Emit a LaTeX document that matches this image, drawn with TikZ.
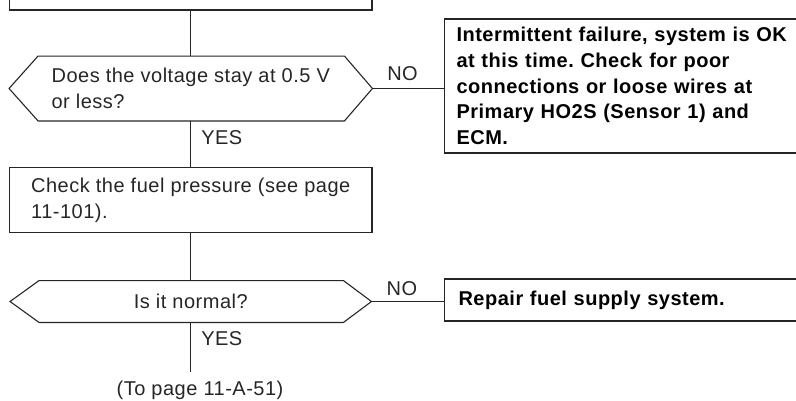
\documentclass[tikz,border=0pt]{standalone}
\usepackage{fontspec}
\setmainfont{Liberation Sans}[LetterSpace=2.5]
\usetikzlibrary{calc}
\frenchspacing
\begin{document}
\begin{tikzpicture}[x=1pt,y=-1pt,
  flow/.style={draw=black!85, line width=1.1pt},
  plaintext/.style={font=\fontsize{20}{25.5}\selectfont, text=black!85},
  box/.style={plaintext, draw=black!85, line width=1.1pt, rectangle,
    inner sep=0pt, align=left},
  decision/.style={plaintext, rectangle, inner sep=0pt, align=left},
  actionbox/.style={draw=black!85, line width=1.1pt, rectangle, anchor=west,
    inner xsep=12pt, inner ysep=0pt, text width=345pt, align=left,
    font=\fontsize{20}{25.8}\selectfont\bfseries, text=black},
  answer/.style={plaintext, inner sep=0pt},
  hexagon/.style={flow, line join=miter},
]
\useasboundingbox (0,0) rectangle (796,400);

% boxes and decisions
\node[box, minimum width=362.5pt, minimum height=80pt] (t0) at (190.75,-30) {};
\node[decision, minimum width=363pt, minimum height=64.5pt] (q1) at (190.75,88.5)
  {Does the voltage stay at 0.5 V\\or less?};
\node[actionbox, minimum height=134pt] (r1) at (444,86)
  {Intermittent failure, system is OK\\at this time. Check for poor\\connections or loose wires at\\Primary HO2S (Sensor 1) and\\ECM.};
\node[box, minimum width=362.5pt, minimum height=65pt] (c1) at (190.75,200.2)
  {Check the fuel pressure (see page\\11-101).};
\node[decision, minimum width=361pt, minimum height=41.5pt] (q2) at (190.75,301.5)
  {Is it normal?};
\node[actionbox, inner xsep=14pt, minimum height=42pt] (r2) at (444,300)
  {Repair fuel supply system.};
\coordinate (q2end) at (190.75,371.7);
\node[answer] (dest) at (200,390) {(To page 11-A-51)};

% hexagonal outlines of the decisions
\foreach \q in {q1,q2}{
  \draw[hexagon] (\q.west) -- ([xshift=29pt]\q.north west)
    -- ([xshift=-28pt]\q.north east) -- (\q.east)
    -- ([xshift=-28pt]\q.south east) -- ([xshift=29pt]\q.south west) -- cycle;
}

% connectors
\draw[flow] (t0.south) -- (q1.north);
\draw[flow] (q1.east) -- node[answer, above, pos=0.42, yshift=7pt] {NO} (q1.east -| r1.west);
\draw[flow] (q1.south) -- node[answer, anchor=west, pos=0.37, xshift=10pt] {YES} (c1.north);
\draw[flow] (c1.south) -- (q2.north);
\draw[flow] (q2.east) -- node[answer, above, pos=0.42, yshift=5pt] {NO} (q2.east -| r2.west);
\draw[flow] (q2.south) -- node[answer, anchor=west, pos=0.32, xshift=10pt] {YES} (q2end);
\end{tikzpicture}
\end{document}
